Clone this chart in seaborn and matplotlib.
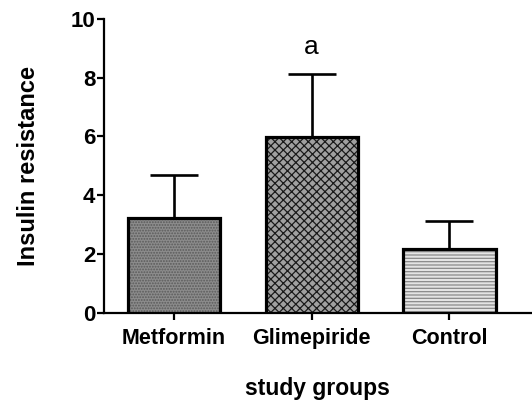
import matplotlib
matplotlib.use("Agg")
import matplotlib.pyplot as plt
import seaborn as sns
import pandas as pd

groups = ["Metformin", "Glimepiride", "Control"]
means = [3.21, 5.99, 2.16]
sds = [1.48, 2.14, 0.95]
letters = ["", "a", ""]

sns.set_theme(style="ticks")
plt.rcParams["font.family"] = ["Liberation Sans", "DejaVu Sans"]
plt.rcParams["hatch.linewidth"] = 0.9
plt.rcParams["text.color"] = "black"
plt.rcParams["axes.labelcolor"] = "black"
plt.rcParams["xtick.color"] = "black"
plt.rcParams["ytick.color"] = "black"

df = pd.DataFrame({"group": groups, "value": means})

fig = plt.figure(figsize=(5.32, 4.01), dpi=100)
ax = fig.add_axes([0.195, 0.22, 0.805, 0.733])

sns.barplot(data=df, x="group", y="value", order=groups, width=0.67,
            errorbar=None, ax=ax, zorder=3)

fills = [("#8c8c8c", "......", "#5a5a5a"),
         ("#a0a0a0", "xxxx", "#1a1a1a"),
         ("#e4e4e4", "-----", "#8a8a8a")]
for patch, (fc, hatch, hc) in zip(ax.patches, fills):
    patch.set_facecolor(fc)
    patch.set_hatch(hatch)
    patch.set_edgecolor("black")
    patch.set_linewidth(2.3)
    patch._hatch_color = matplotlib.colors.to_rgba(hc)

xs = list(range(len(groups)))
ax.errorbar(xs, means, yerr=[[0] * len(sds), sds], fmt="none",
            ecolor="black", elinewidth=1.9, capsize=17.5, capthick=1.9,
            zorder=2)

for x, m, s, t in zip(xs, means, sds, letters):
    if t:
        ax.text(x, 9.05, t, ha="center", va="center", fontsize=19)

ax.set_ylim(0, 10)
ax.set_xlim(-0.51, 2.6)
ax.set_yticks([0, 2, 4, 6, 8, 10])
ax.set_yticklabels(["0", "2", "4", "6", "8", "10"], fontweight="bold", fontsize=16)
ax.set_xticks(xs)
ax.set_xticklabels(groups, fontweight="bold", fontsize=15.5)
ax.tick_params(axis="both", width=1.6, length=5, color="black", pad=1)
ax.tick_params(axis="x", pad=6)

for side in ["top", "right"]:
    ax.spines[side].set_visible(False)
for side in ["left", "bottom"]:
    ax.spines[side].set_linewidth(1.6)
    ax.spines[side].set_color("black")

ax.set_ylabel("Insulin resistance", fontsize=17, fontweight="semibold", labelpad=22)
ax.set_xlabel("study groups", fontsize=16.5, fontweight="bold", labelpad=20)

fig.savefig("out.png", dpi=100)
